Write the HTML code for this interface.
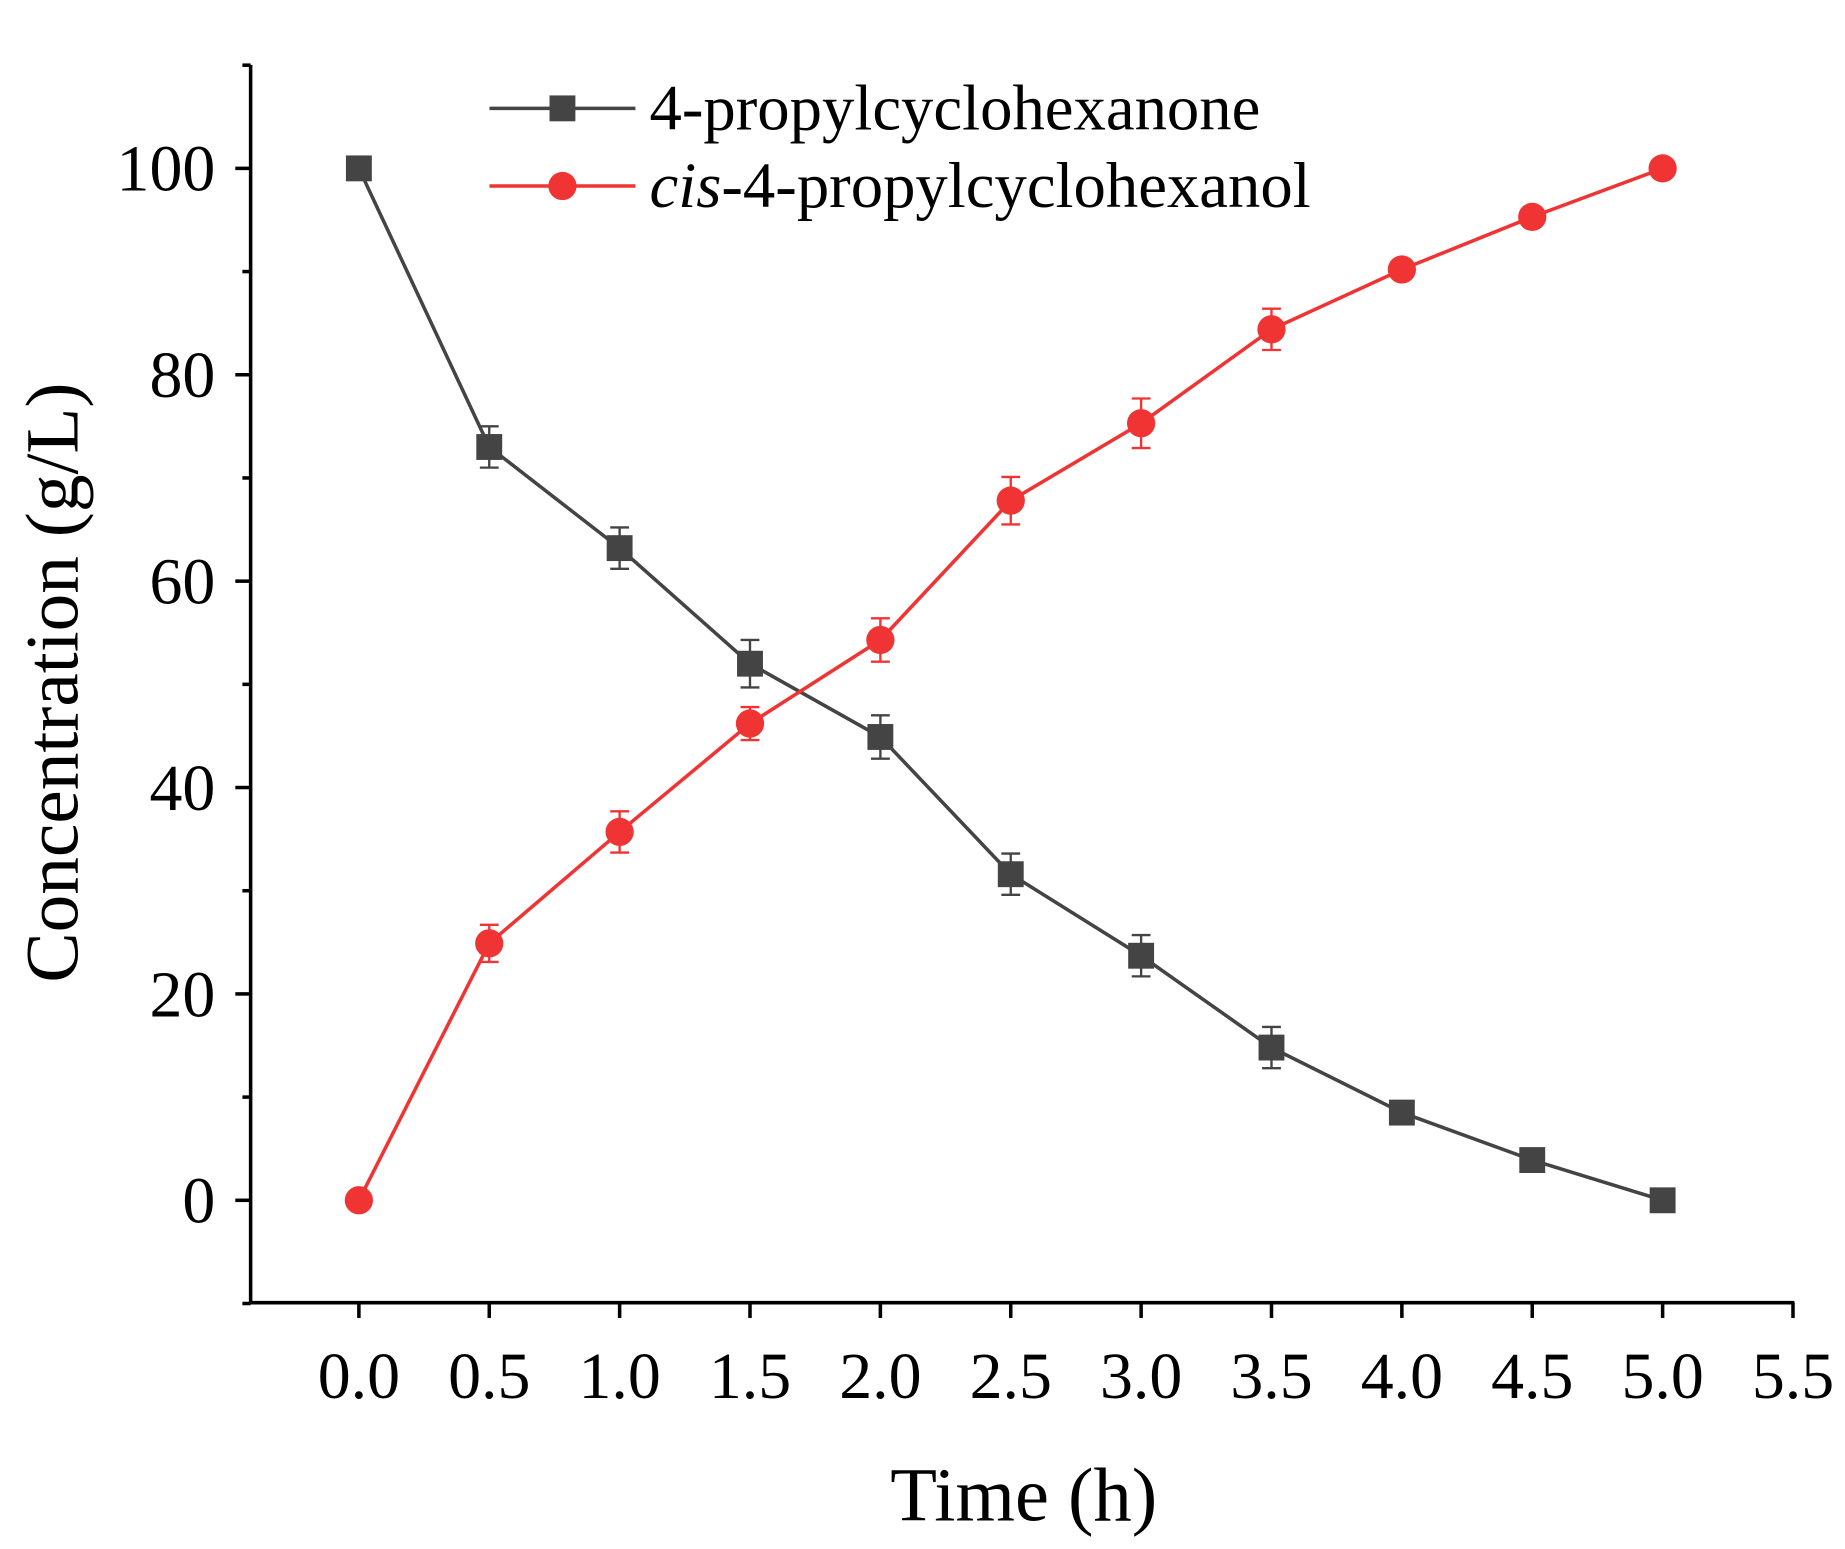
<!DOCTYPE html>
<html><head><meta charset="utf-8"><style>
html,body{margin:0;padding:0;background:#fff}
svg text{font-family:"Liberation Serif",serif;fill:#000}
</style></head><body>
<svg id="chart" width="1845" height="1544" viewBox="0 0 1568 1312" xmlns="http://www.w3.org/2000/svg">
<g id="axes"></g>
<g id="series"></g>
<g id="legend">
<line x1="416" y1="92" x2="540" y2="92" stroke="#444" stroke-width="3"/>
<rect x="467" y="81" width="22" height="22" fill="#444"/>
<text x="552" y="110" font-size="55">4-propylcyclohexanone</text>
<line x1="416" y1="158" x2="540" y2="158" stroke="#f03333" stroke-width="3"/>
<circle cx="478" cy="158" r="12" fill="#f03333"/>
<text x="552" y="176" font-size="55"><tspan font-style="italic">cis</tspan>-4-propylcyclohexanol</text>
</g>
</svg>
<script>
const times=[0,0.5,1,1.5,2,2.5,3,3.5,4,4.5,5];
const ketone=[100,73,63.2,52,44.9,31.6,23.7,14.8,8.5,3.9,0];
const ketoneErr=[0,2,2,2.3,2.1,2,2,2,0.5,0.5,0];
const alcohol=[0,24.9,35.7,46.2,54.3,67.8,75.3,84.4,90.2,95.3,100];
const alcoholErr=[0,1.8,2,1.6,2.1,2.3,2.4,2,0.5,0.5,0];
const xTicks=["0.0","0.5","1.0","1.5","2.0","2.5","3.0","3.5","4.0","4.5","5.0","5.5"];
const yTicks=[0,20,40,60,80,100];
const NS="http://www.w3.org/2000/svg";
const X=v=>305+v*221.6, Y=v=>1020-v*8.77;
function mk(t,a,p){const e=document.createElementNS(NS,t);for(const k in a)e.setAttribute(k,a[k]);p.appendChild(e);return e;}
const ax=document.getElementById('axes');
let l=mk('line',{x1:213,y1:1107,x2:1525,y2:1107,stroke:'#000','stroke-width':3},ax);


l=mk('line',{x1:213,y1:55,x2:213,y2:1107,stroke:'#000','stroke-width':3},ax);


xTicks.forEach((s,i)=>{const x=X(i*0.5);
mk('line',{x1:x,y1:1107,x2:x,y2:1120,stroke:'#000','stroke-width':3},ax);
const t=mk('text',{x:x,y:1188,'font-size':56,'text-anchor':'middle'},ax);t.textContent=s;

});
for(let v=-10;v<=110;v+=10){const y=Y(v);const maj=v%20===0&&v>=0&&v<=100;
mk('line',{x1:maj?200:206,y1:y,x2:213,y2:y,stroke:'#000','stroke-width':3},ax);}
yTicks.forEach(v=>{const t=mk('text',{x:183,y:Y(v)+19,'font-size':56,'text-anchor':'end'},ax);t.textContent=v;

});
let t=mk('text',{x:870,y:1292,'font-size':65,'text-anchor':'middle'},ax);t.textContent='Time (h)';


t=mk('text',{x:66,y:580,'font-size':64,'text-anchor':'middle',transform:'rotate(-90 66 580)'},ax);t.textContent='Concentration (g/L)';


const sg=document.getElementById('series');
function draw(vals,errs,col,shape,name){
const g=mk('g',{},sg);


mk('polyline',{points:vals.map((v,i)=>X(times[i])+','+Y(v)).join(' '),fill:'none',stroke:col,'stroke-width':3},g);
vals.forEach((v,i)=>{const x=X(times[i]);
if(errs[i]>0){const y1=Y(v+errs[i]),y2=Y(v-errs[i]);
mk('line',{x1:x,y1:y1,x2:x,y2:y2,stroke:col,'stroke-width':2},g);
mk('line',{x1:x-8,y1:y1,x2:x+8,y2:y1,stroke:col,'stroke-width':2},g);
mk('line',{x1:x-8,y1:y2,x2:x+8,y2:y2,stroke:col,'stroke-width':2},g);}
let m;
if(shape==='sq')m=mk('rect',{x:x-11,y:Y(v)-11,width:22,height:22,fill:col},g);
else m=mk('circle',{cx:x,cy:Y(v),r:12,fill:col},g);

});}
draw(ketone,ketoneErr,'#444','sq','ketone-series');
draw(alcohol,alcoholErr,'#f03333','ci','alcohol-series');
</script>
</body></html>
